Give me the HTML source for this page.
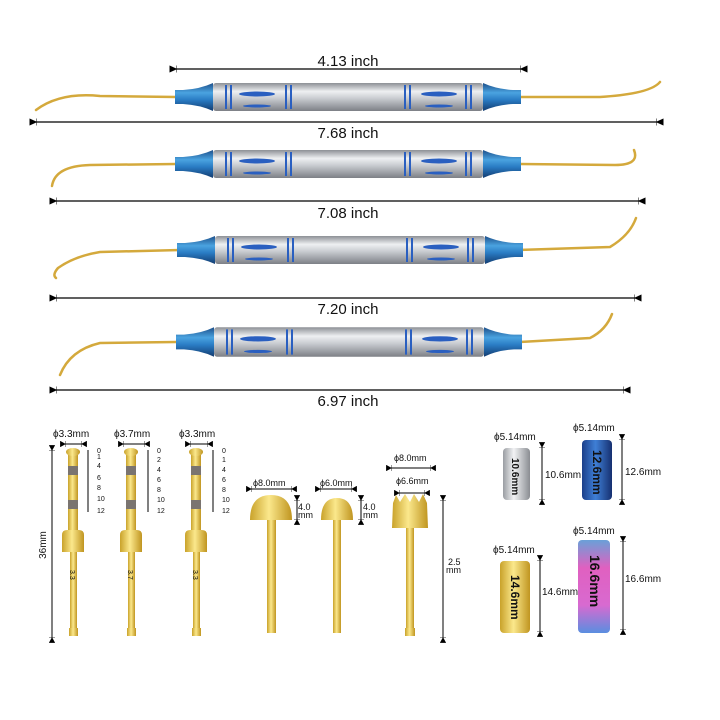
<!DOCTYPE html>
<html><head><meta charset="utf-8"><style>
html,body{margin:0;padding:0;background:#fff}
svg{display:block}
text{font-family:"Liberation Sans",sans-serif;fill:#111}
</style></head><body>
<svg width="720" height="720" viewBox="0 0 720 720" xmlns="http://www.w3.org/2000/svg">
<defs>
<linearGradient id="sil" x1="0" y1="0" x2="0" y2="1">
<stop offset="0" stop-color="#8d9096"/><stop offset="0.3" stop-color="#eef0f2"/><stop offset="0.55" stop-color="#c9ccd1"/><stop offset="1" stop-color="#7d8086"/></linearGradient>
<linearGradient id="blu" x1="0" y1="0" x2="0" y2="1">
<stop offset="0" stop-color="#1d4f8a"/><stop offset="0.35" stop-color="#4aa3e0"/><stop offset="0.6" stop-color="#2a7cc4"/><stop offset="1" stop-color="#133c70"/></linearGradient>
<linearGradient id="silv" x1="0" y1="0" x2="1" y2="0">
<stop offset="0" stop-color="#9a9da2"/><stop offset="0.4" stop-color="#f2f3f5"/><stop offset="1" stop-color="#8a8d92"/></linearGradient>
<linearGradient id="bluv" x1="0" y1="0" x2="1" y2="0">
<stop offset="0" stop-color="#1b3f8a"/><stop offset="0.45" stop-color="#3f7fd6"/><stop offset="1" stop-color="#163070"/></linearGradient>
<linearGradient id="goldv" x1="0" y1="0" x2="1" y2="0">
<stop offset="0" stop-color="#c9a22a"/><stop offset="0.45" stop-color="#fbe88c"/><stop offset="1" stop-color="#c09520"/></linearGradient>
<linearGradient id="rain" x1="0" y1="0" x2="0" y2="1">
<stop offset="0" stop-color="#6aa0d8"/><stop offset="0.3" stop-color="#e060c0"/><stop offset="0.7" stop-color="#d86ad0"/><stop offset="1" stop-color="#5a8ee0"/></linearGradient>
<g id="handle">
<path d="M0,-7 L8,-7 Q25,-8 38,-14 L38,14 Q25,8 8,7 L0,7Z" fill="url(#blu)"/>
<rect x="38" y="-14" width="270" height="28" rx="3" fill="url(#sil)"/>
<path d="M346,-7 L338,-7 Q321,-8 308,-14 L308,14 Q321,8 338,7 L346,7Z" fill="url(#blu)"/>
<g fill="#2a5fc0">
<rect x="50" y="-12" width="2" height="24"/><rect x="55" y="-12" width="2" height="24"/>
<ellipse cx="82" cy="-3" rx="18" ry="2.5"/><ellipse cx="82" cy="9" rx="14" ry="1.5"/>
<rect x="110" y="-12" width="2" height="24"/><rect x="115" y="-12" width="2" height="24"/>
<rect x="229" y="-12" width="2" height="24"/><rect x="234" y="-12" width="2" height="24"/>
<ellipse cx="264" cy="-3" rx="18" ry="2.5"/><ellipse cx="264" cy="9" rx="14" ry="1.5"/>
<rect x="290" y="-12" width="2" height="24"/><rect x="295" y="-12" width="2" height="24"/>
</g>
</g>
<marker id="ar" markerWidth="7" markerHeight="7" refX="0.5" refY="3.5" markerUnits="userSpaceOnUse" orient="auto-start-reverse"><path d="M0,0V7M0.5,3.5L7,0.5V6.5Z" fill="#000" stroke="#000" stroke-width="1"/></marker>
<marker id="sa" markerWidth="6" markerHeight="6" refX="0.5" refY="3" orient="auto-start-reverse"><path d="M0,0V6M0.5,3L5,0.5V5.5Z" fill="#000" stroke="#000" stroke-width="0.8"/></marker>
</defs>

<g stroke="#d4a93c" fill="none" stroke-width="2.5" stroke-linecap="round">
<path d="M176,97 L100,96 Q60,92 36,110"/>
<path d="M520,97 L600,97 Q650,94 660,82"/>
<path d="M176,164 L90,165 Q55,166 52,186"/>
<path d="M520,164 L615,165 Q640,165 634,150"/>
<path d="M180,250 L100,252 Q75,256 58,268 Q52,275 56,278"/>
<path d="M518,250 L610,247 Q630,235 636,218"/>
<path d="M176,342 L100,343 Q70,350 60,375"/>
<path d="M520,342 L590,338 Q606,330 612,314"/>
</g>
<use href="#handle" transform="translate(175,97)"/>
<use href="#handle" transform="translate(175,164)"/>
<use href="#handle" transform="translate(177,250)"/>
<use href="#handle" transform="translate(176,342) scale(1,1.05)"/>

<g stroke="#000" stroke-width="1.3" marker-start="url(#ar)" marker-end="url(#ar)">
<line x1="176" y1="69" x2="521" y2="69"/>
<line x1="36" y1="122" x2="657" y2="122"/>
<line x1="56" y1="201" x2="639" y2="201"/>
<line x1="56" y1="298" x2="635" y2="298"/>
<line x1="56" y1="390" x2="624" y2="390"/>
</g>
<g font-size="15" text-anchor="middle">
<text x="348" y="66">4.13 inch</text>
<text x="348" y="138">7.68 inch</text>
<text x="348" y="218">7.08 inch</text>
<text x="348" y="314">7.20 inch</text>
<text x="348" y="406">6.97 inch</text>
</g>

<g id="d1">
<rect x="68" y="452" width="10" height="80" fill="url(#goldv)"/>
<rect x="68" y="466" width="10" height="9" fill="#7a7470"/><rect x="68" y="500" width="10" height="9" fill="#7a7470"/>
<ellipse cx="73" cy="452" rx="7" ry="4" fill="url(#goldv)"/>
<path d="M62,535 Q62,530 67,530 L79,530 Q84,530 84,535 L84,552 L62,552Z" fill="url(#goldv)"/>
<rect x="70" y="552" width="7" height="80" fill="url(#goldv)"/>
<rect x="69" y="628" width="9" height="8" fill="url(#goldv)"/>
</g>
<use href="#d1" transform="translate(58,0)"/>
<use href="#d1" transform="translate(123,0)"/>
<g font-size="7" fill="#333"><text x="70" y="570" transform="rotate(90 70 570)">3.3</text><text x="128" y="570" transform="rotate(90 128 570)">3.7</text><text x="193" y="570" transform="rotate(90 193 570)">3.3</text></g>

<g font-size="10">
<text x="53" y="437">ϕ3.3mm</text><text x="114" y="437">ϕ3.7mm</text><text x="179" y="437">ϕ3.3mm</text>
</g>
<g stroke="#000" stroke-width="1" marker-start="url(#sa)" marker-end="url(#sa)">
<line x1="65" y1="444" x2="82" y2="444"/><line x1="123" y1="444" x2="145" y2="444"/><line x1="190" y1="444" x2="208" y2="444"/>
<line x1="52" y1="450" x2="52" y2="638"/>
</g>
<text x="46" y="545" font-size="10" transform="rotate(-90 46 545)" text-anchor="middle">36mm</text>
<g stroke="#000" stroke-width="1">
<line x1="88" y1="450" x2="88" y2="512"/><line x1="148" y1="450" x2="148" y2="512"/><line x1="213" y1="450" x2="213" y2="512"/>
</g>
<g font-size="7">
<text x="97" y="453">0</text><text x="97" y="459">1</text><text x="97" y="468">4</text><text x="97" y="480">6</text><text x="97" y="490">8</text><text x="97" y="501">10</text><text x="97" y="513">12</text>
<text x="157" y="453">0</text><text x="157" y="462">2</text><text x="157" y="472">4</text><text x="157" y="482">6</text><text x="157" y="492">8</text><text x="157" y="502">10</text><text x="157" y="513">12</text>
<text x="222" y="453">0</text><text x="222" y="462">1</text><text x="222" y="472">4</text><text x="222" y="482">6</text><text x="222" y="492">8</text><text x="222" y="502">10</text><text x="222" y="513">12</text>
</g>

<path d="M250,520 Q250,495 271,495 Q292,495 292,520Z" fill="url(#goldv)"/>
<rect x="267" y="520" width="9" height="113" fill="url(#goldv)"/>
<path d="M321,520 Q321,498 337,498 Q353,498 353,520Z" fill="url(#goldv)"/>
<rect x="333" y="520" width="8" height="113" fill="url(#goldv)"/>
<g font-size="9"><text x="253" y="486">ϕ8.0mm</text><text x="320" y="486">ϕ6.0mm</text>
<text x="298" y="510">4.0</text><text x="298" y="518">mm</text><text x="363" y="510">4.0</text><text x="363" y="518">mm</text></g>
<g stroke="#000" stroke-width="1" marker-start="url(#sa)" marker-end="url(#sa)">
<line x1="251" y1="489" x2="292" y2="489"/><line x1="320" y1="489" x2="352" y2="489"/>
<line x1="297" y1="500" x2="297" y2="520"/><line x1="361" y1="500" x2="361" y2="520"/>
</g>

<path d="M393,503 L396,495 L400,502 L405,494 L410,502 L414,494 L419,502 L423,494 L427,503 L428,528 L392,528Z" fill="url(#goldv)"/>
<rect x="406" y="528" width="8" height="102" fill="url(#goldv)"/>
<rect x="405" y="628" width="10" height="8" fill="url(#goldv)"/>
<g font-size="9"><text x="394" y="461">ϕ8.0mm</text><text x="396" y="484">ϕ6.6mm</text><text x="448" y="565">2.5</text><text x="446" y="573">mm</text></g>
<g stroke="#000" stroke-width="1" marker-start="url(#sa)" marker-end="url(#sa)">
<line x1="391" y1="468" x2="431" y2="468"/><line x1="399" y1="493" x2="425" y2="493"/>
<line x1="443" y1="500" x2="443" y2="638"/>
</g>

<rect x="503" y="448" width="27" height="52" rx="4" fill="url(#silv)"/>
<rect x="582" y="440" width="30" height="60" rx="4" fill="url(#bluv)"/>
<rect x="500" y="561" width="30" height="72" rx="4" fill="url(#goldv)"/>
<rect x="578" y="540" width="32" height="93" rx="4" fill="url(#rain)"/>
<g font-size="10" fill="#ddd" font-weight="bold">
<text x="512" y="458" transform="rotate(90 512 458)" fill="#888">10.6mm</text>
<text x="593" y="450" transform="rotate(90 593 450)" font-size="12">12.6mm</text>
<text x="511" y="575" transform="rotate(90 511 575)" fill="#8a6a10" font-size="12">14.6mm</text>
<text x="590" y="555" transform="rotate(90 590 555)" font-size="14">16.6mm</text>
</g>
<g font-size="10">
<text x="494" y="440">ϕ5.14mm</text><text x="573" y="431">ϕ5.14mm</text>
<text x="493" y="553">ϕ5.14mm</text><text x="573" y="534">ϕ5.14mm</text>
<text x="545" y="478">10.6mm</text><text x="625" y="475">12.6mm</text>
<text x="542" y="595">14.6mm</text><text x="625" y="582">16.6mm</text>
</g>
<g stroke="#000" stroke-width="1" marker-start="url(#sa)" marker-end="url(#sa)">
<line x1="542" y1="447" x2="542" y2="500"/><line x1="622" y1="439" x2="622" y2="500"/>
<line x1="540" y1="560" x2="540" y2="632"/><line x1="623" y1="541" x2="623" y2="630"/>
</g>
</svg>
</body></html>
